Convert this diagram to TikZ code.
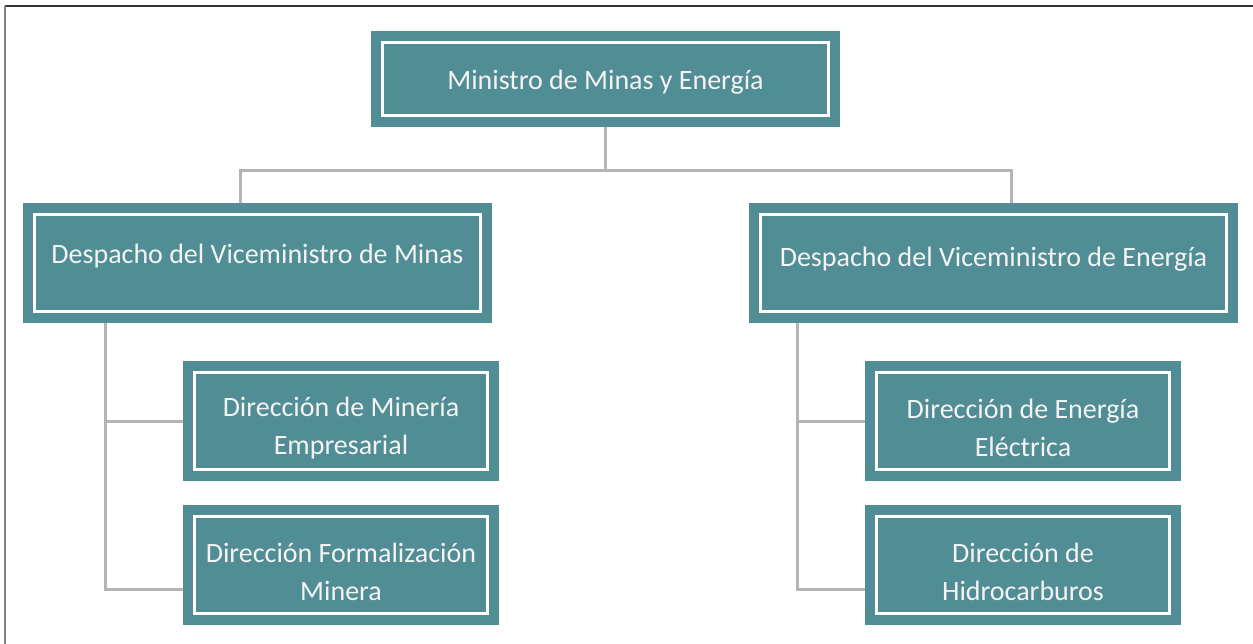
\documentclass[tikz,border=0pt]{standalone}
\usepackage{fontspec}
\setmainfont{Carlito}
\definecolor{petrol}{HTML}{518D94}
\definecolor{linkgray}{HTML}{B4B4B4}
\definecolor{boxtext}{HTML}{F4F4F4}
\tikzset{
  unit/.style={rectangle, fill=petrol, draw=white, line width=2.5pt,
    preaction={draw=petrol, line width=23pt}, outer sep=11.5pt, inner sep=0pt,
    text=boxtext, align=center, font=\fontsize{28}{38}\selectfont},
  link/.style={draw=linkgray, line width=3pt}
}
\begin{document}
\begin{tikzpicture}[x=1pt,y=-1pt]
\useasboundingbox (0,0) rectangle (1253,644);
% frame
\draw[color=black!80, line width=2pt] (5,6) -- (1253,6);
\draw[color=black!50, line width=2pt] (5,6) -- (5,644);

\node[unit, minimum width=446pt, minimum height=73pt] (ministro) at (605.5,79)
  {\rule{0pt}{26pt}Ministro de Minas y Energía};

\node[unit, minimum width=446pt, minimum height=97pt] (vmminas) at (257.5,263)
  {Despacho del Viceministro de Minas\rule[-19pt]{0pt}{0pt}};
\node[unit, minimum width=466pt, minimum height=97pt] (vmenergia) at (993.5,263)
  {Despacho del Viceministro de Energía\rule[-12pt]{0pt}{0pt}};

\node[unit, minimum width=293pt, minimum height=97pt] (mineria) at (341,421)
  {\rule{0pt}{34pt}Dirección de Minería\\Empresarial};
\node[unit, minimum width=293pt, minimum height=97pt] (formal) at (341,565)
  {\rule{0pt}{34pt}Dirección Formalización\\Minera};
\node[unit, minimum width=293pt, minimum height=97pt] (electrica) at (1023,421)
  {\rule{0pt}{34pt}Dirección de Energía\\Eléctrica};
\node[unit, minimum width=293pt, minimum height=97pt] (hidro) at (1023,565)
  {\rule{0pt}{34pt}Dirección de\\Hidrocarburos};

% connectors
\draw[link] (ministro.south) -- ++(0,44) coordinate (bus);
\draw[link] ([xshift=-17.5pt]vmminas.north) |- (bus) -| ([xshift=17.5pt]vmenergia.north);
\draw[link] ([xshift=-152.5pt]vmminas.south) |- (mineria.west);
\draw[link] ([xshift=-152.5pt]vmminas.south) |- ([yshift=-24pt]formal.west);
\draw[link] ([xshift=-196.5pt]vmenergia.south) |- (electrica.west);
\draw[link] ([xshift=-196.5pt]vmenergia.south) |- ([yshift=-24pt]hidro.west);
\end{tikzpicture}
\end{document}
